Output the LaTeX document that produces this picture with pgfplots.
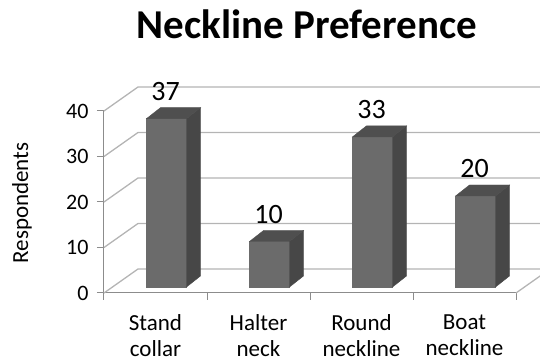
\documentclass[border=0pt]{standalone}
\usepackage{pgfplots}
\pgfplotsset{compat=1.18}
\usepackage{fontspec}
\setmainfont{Carlito}
\definecolor{barfront}{HTML}{6B6B6B}
\definecolor{barside}{HTML}{474747}
\definecolor{bartop}{HTML}{4F4F4F}
\definecolor{gridc}{HTML}{B4B4B4}
\definecolor{axc}{HTML}{8C8C8C}
\pgfdeclareplotmark{nothing}{}
\pgfplotstableread{
x  y
0.5 37
1.5 10
2.5 33
3.5 20
}\neckdata
\begin{document}
\begin{tikzpicture}
\begin{axis}[
  at={(0pt,0pt)}, anchor=south west,
  x=103pt, y=4.55pt,
  xmin=0, xmax=4, ymin=0, ymax=40,
  clip=false,
  axis x line*=bottom, axis y line*=left,
  axis line style={-, draw=axc, line width=1pt},
  tick style={draw=axc, line width=1pt},
  tick align=outside,
  major tick length=7pt,
  ytick={0,10,20,30,40},
  xtick={0,1,2,3,4}, xticklabels={},
  extra x ticks={0.5,1.5,2.5,3.5},
  extra x tick labels={{Stand\\collar},{Halter\\neck},{Round\\neckline},{Boat\\neckline}},
  extra x tick style={major tick length=0pt, xticklabel style={align=center, anchor=north, yshift=-18pt, font=\fontsize{23}{26}\selectfont}},
  /pgf/number format/assume math mode=true,
  yticklabel style={font=\fontsize{22}{24}\selectfont, xshift=-5pt},
  every axis y label/.style={at={(axis description cs:0,0.5)}, xshift=-82pt, yshift=-1pt, rotate=90, anchor=center, font=\fontsize{23}{26}\selectfont},
  ylabel={Respondents},
]
\pgfplotsinvokeforeach{0,10,20,30,40}{
  \draw[gridc, line width=1.3pt] (axis cs:0,#1) -- ++(34pt,24pt) -- ([xshift=34pt,yshift=24pt]axis cs:4,#1);
}
\draw[gridc, line width=1.3pt] (axis cs:4,0) -- ++(34pt,24pt);
\addplot[
  scatter, only marks, mark=nothing,
  visualization depends on={rawy \as \val},
  scatter/@pre marker code/.code={%
    \fill[barfront] (-9pt,{6pt-\val*4.55pt}) rectangle (31pt,6pt);
    \fill[barside] (31pt,6pt) -- (45pt,17pt) -- (45pt,{17pt-\val*4.55pt}) -- (31pt,{6pt-\val*4.55pt}) -- cycle;
    \fill[bartop] (-9pt,6pt) -- (31pt,6pt) -- (45pt,17pt) -- (5pt,17pt) -- cycle;
  },
  scatter/@post marker code/.code={},
] table[x=x, y=y] {\neckdata};
\addplot[
  only marks, mark=nothing,
  nodes near coords,
  every node near coord/.append style={anchor=center, xshift=10pt, yshift=33pt, font=\fontsize{28}{30}\selectfont, text=black},
] table[x=x, y=y] {\neckdata};
\end{axis}
\node[anchor=base, font=\bfseries\fontsize{41}{44}\selectfont] at (203pt,254pt) {Neckline Preference};
\pgfresetboundingbox
\path (-104pt,-70pt) rectangle (436pt,293pt);
\end{tikzpicture}
\end{document}
